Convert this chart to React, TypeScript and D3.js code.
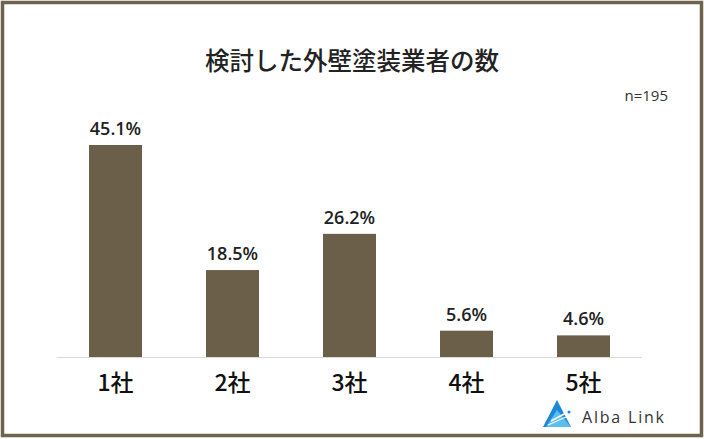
import React from "react";
import * as d3 from "d3";

const categories = ["1社", "2社", "3社", "4社", "5社"];
const values = [45.1, 18.5, 26.2, 5.6, 4.6];
const valueLabels = ["45.1%", "18.5%", "26.2%", "5.6%", "4.6%"];
const title = "検討した外壁塗装業者の数";
const sampleNote = "n=195";

const W = 704;
const H = 439;
const font = "'Noto Sans CJK JP', sans-serif";
const latin = "'Open Sans', 'Noto Sans', sans-serif";

export default function App() {
  const x = d3.scaleBand<string>().domain(categories).range([57, 642]).paddingInner(0.547).paddingOuter(0.2735);
  const y = d3.scaleLinear().domain([0, 45.1]).range([357, 145]);
  const barColor = "#6b5f4a";
  return (
    <svg width={W} height={H} style={{ position: "absolute", left: 0, top: 0 }}>
      <rect x={0} y={0} width={W} height={H} fill="#ffffff" />
      <rect x={2.5} y={2.5} width={699} height={433} fill="#ffffff" stroke="#6e634c" strokeWidth={3.5} />
      <text x={352} y={70} textAnchor="middle" fontFamily={font} fontSize={24.5} fontWeight={500} fill="#222">
        {title}
      </text>
      <text x={668} y={101} textAnchor="end" fontFamily={latin} fontSize={15} fill="#333">
        {sampleNote}
      </text>
      <line x1={57} x2={642} y1={357.5} y2={357.5} stroke="#d9d9d9" strokeWidth={1} />
      {categories.map((c, i) => (
        <g key={c}>
          <rect x={x(c)} y={y(values[i])} width={x.bandwidth()} height={y(0) - y(values[i])} fill={barColor} />
          <text
            x={(x(c) as number) + x.bandwidth() / 2}
            y={y(values[i]) - 10}
            textAnchor="middle"
            fontFamily={latin}
            fontSize={18}
            fontWeight={600}
            fill="#222"
          >
            {valueLabels[i]}
          </text>
          <text
            x={(x(c) as number) + x.bandwidth() / 2}
            y={391}
            textAnchor="middle"
            fontFamily={font}
            fontSize={23}
            fontWeight={500}
            fill="#111"
          >
            {c}
          </text>
        </g>
      ))}
      <g transform="translate(543,400)">
        <polygon points="14,0 0,27 28,27" fill="#1e88d8" />
        <polygon points="14,10 28,27 3,27" fill="#5bbdf0" />
        <path d="M8,21 L23,13" stroke="#ffffff" strokeWidth={1.5} />
        <path d="M5,25 L23,17" stroke="#ffffff" strokeWidth={1.2} />
        <circle cx={26} cy={12} r={1.5} fill="#1e88d8" />
      </g>
      <text x={582} y={423} fontFamily={latin} fontSize={16} letterSpacing={1.8} fill="#333">
        Alba Link
      </text>
    </svg>
  );
}
